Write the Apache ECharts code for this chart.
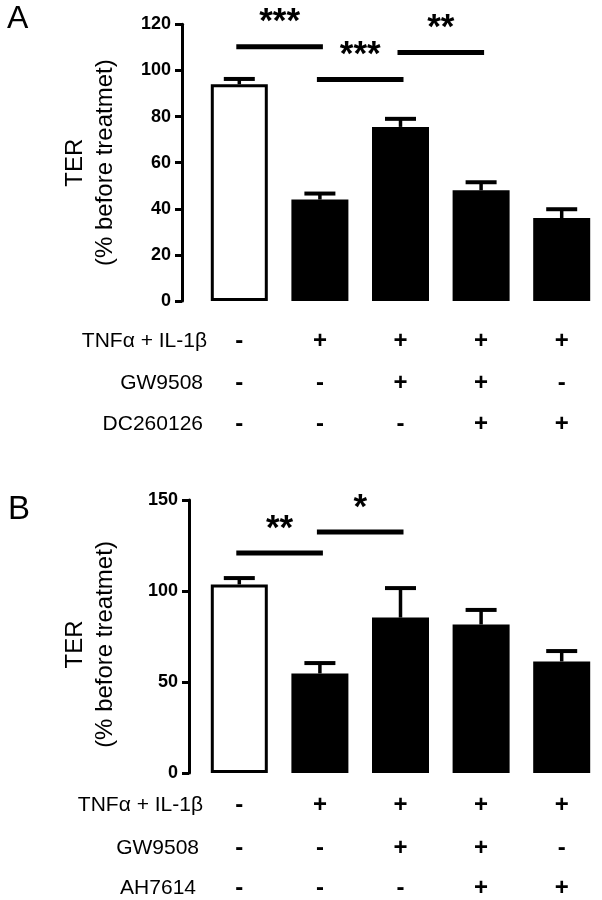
<!DOCTYPE html>
<html>
<head>
<meta charset="utf-8">
<script src="https://cdn.jsdelivr.net/npm/echarts@6/dist/echarts.min.js"></script>
<style>
html,body{margin:0;padding:0;background:#fff;}
#chart{width:602px;height:900px;}
</style>
</head>
<body>
<div id="chart"></div>
<script>
// ---- data ----
const categories = ['1', '2', '3', '4', '5'];
const terA = [94, 44, 75.5, 48, 36];
const semA = [2.3, 2.6, 3.5, 3.5, 3.8];
const terB = [103.6, 54.7, 85.4, 81.6, 61.3];
const semB = [3.5, 5.7, 16.2, 8, 5.7];
const yTicksA = [0, 20, 40, 60, 80, 100, 120];
const yTicksB = [0, 50, 100, 150];
const rowNamesA = ['TNFα + IL-1β', 'GW9508', 'DC260126'];
const rowNamesB = ['TNFα + IL-1β', 'GW9508', 'AH7614'];
const tnfA = ['-', '+', '+', '+', '+'];
const gwA  = ['-', '-', '+', '+', '-'];
const dcA  = ['-', '-', '-', '+', '+'];
const tnfB = ['-', '+', '+', '+', '+'];
const gwB  = ['-', '-', '+', '+', '-'];
const ahB  = ['-', '-', '-', '+', '+'];
// significance brackets: [fromIndex, toIndex, yValue, label]
const sigA = [[0, 1, 110.3, '***'], [1, 2, 96.1, '***'], [2, 3, 107.8, '**']];
const sigB = [[0, 1, 120.9, '**'], [1, 2, 132.4, '*']];
const yTitle = 'TER\n(% before treatmet)';

// ---- chart ----
const FONT = '"Liberation Sans", Arial, Helvetica, sans-serif';
const chart = echarts.init(document.getElementById('chart'), null, {renderer: 'canvas'});

function yAxisFor(grid, ticks, off, gap, pad) {
  return {
    type: 'value', gridIndex: grid,
    min: ticks[0], max: ticks[ticks.length - 1], interval: ticks[1] - ticks[0],
    offset: off,
    splitLine: {show: false},
    axisLine: {show: true, lineStyle: {color: '#000', width: 3}},
    axisTick: {show: true, length: 7, lineStyle: {color: '#000', width: 3}},
    axisLabel: {color: '#000', fontSize: 18, fontWeight: 'bold', fontFamily: FONT, margin: 11},
    name: yTitle, nameLocation: 'middle', nameRotate: 90, nameGap: gap,
    nameTextStyle: {color: '#000', fontSize: 24, lineHeight: 30, fontFamily: FONT, padding: pad}
  };
}

function rowAxis(grid, arr, name, off, nameGap) {
  return {
    type: 'category', gridIndex: grid, data: categories, position: 'bottom', offset: off,
    axisLine: {show: false}, axisTick: {show: false}, splitLine: {show: false},
    axisLabel: {
      show: true, interval: 0, margin: 0, verticalAlign: 'middle',
      color: '#000', fontSize: 24, fontWeight: 'bold', fontFamily: FONT,
      formatter: function (v, i) { return arr[i]; }
    },
    name: name, nameLocation: 'start', nameGap: nameGap,
    nameTextStyle: {color: '#000', fontSize: 21, fontFamily: FONT, align: 'right', verticalAlign: 'middle'}
  };
}

function barAxis(grid) {
  return {
    type: 'category', gridIndex: grid, data: categories, position: 'bottom',
    axisLine: {show: false}, axisTick: {show: false}, axisLabel: {show: false}, splitLine: {show: false}
  };
}

function barSeries(xi, yi, vals) {
  return {
    type: 'bar', xAxisIndex: xi, yAxisIndex: yi, barWidth: 57, z: 3,
    data: vals.map(function (v, i) {
      return i === 0
        ? {value: v, itemStyle: {color: '#fff', borderColor: '#000', borderWidth: 3}}
        : {value: v, itemStyle: {color: '#000', borderColor: '#000', borderWidth: 3}};
    }),
    silent: true
  };
}

function errSeries(xi, yi, vals, sems) {
  return {
    type: 'custom', xAxisIndex: xi, yAxisIndex: yi, z: 2, silent: true,
    encode: {x: 0, y: [1, 2]},
    data: vals.map(function (v, i) { return [i, v, v + sems[i]]; }),
    renderItem: function (params, api) {
      const p0 = api.coord([api.value(0), api.value(1)]);
      const p1 = api.coord([api.value(0), api.value(2)]);
      return {
        type: 'group', children: [
          {type: 'line', shape: {x1: p0[0], y1: p0[1], x2: p1[0], y2: p1[1]}, style: {stroke: '#000', lineWidth: 3.5}},
          {type: 'line', shape: {x1: p1[0] - 15.5, y1: p1[1], x2: p1[0] + 15.5, y2: p1[1]}, style: {stroke: '#000', lineWidth: 4}}
        ]
      };
    }
  };
}

function sigSeries(xi, yi, sig) {
  return {
    type: 'custom', xAxisIndex: xi, yAxisIndex: yi, z: 4, silent: true, clip: false,
    encode: {x: [0, 1], y: 2},
    data: sig.map(function (s) { return [s[0], s[1], s[2]]; }),
    renderItem: function (params, api) {
      const a = api.coord([api.value(0), api.value(2)]);
      const b = api.coord([api.value(1), api.value(2)]);
      return {
        type: 'group', children: [
          {type: 'rect', shape: {x: a[0] - 3, y: a[1] - 2.5, width: b[0] - a[0] + 6, height: 5}, style: {fill: '#000'}},
          {type: 'text', style: {
            x: (a[0] + b[0]) / 2, y: a[1] - 24, text: sig[params.dataIndex][3],
            fill: '#000', font: 'bold 35px ' + FONT, align: 'center', verticalAlign: 'middle'
          }}
        ]
      };
    }
  };
}

const option = {
  backgroundColor: '#fff',
  animation: false,
  textStyle: {fontFamily: FONT},
  grid: [
    {left: 199, top: 24.3, width: 409, height: 276.7},
    {left: 199, top: 500, width: 409, height: 273}
  ],
  xAxis: [
    barAxis(0),
    rowAxis(0, tnfA, rowNamesA[0], 40, -8),
    rowAxis(0, gwA, rowNamesA[1], 82, -4),
    rowAxis(0, dcA, rowNamesA[2], 123, -4),
    barAxis(1),
    rowAxis(1, tnfB, rowNamesB[0], 32, -4),
    rowAxis(1, gwB, rowNamesB[1], 75, 0),
    rowAxis(1, ahB, rowNamesB[2], 115, 3)
  ],
  yAxis: [
    yAxisFor(0, yTicksA, 17, 62, [0, 0, 0, 0]),
    yAxisFor(1, yTicksB, 10, 69, [0, 16, 0, 0])
  ],
  graphic: [
    {type: 'text', left: 7, top: 3, style: {text: 'A', font: '32px ' + FONT, fill: '#000'}},
    {type: 'text', left: 8, top: 493, style: {text: 'B', font: '33px ' + FONT, fill: '#000'}}
  ],
  series: [
    errSeries(0, 0, terA, semA),
    barSeries(0, 0, terA),
    sigSeries(0, 0, sigA),
    errSeries(4, 1, terB, semB),
    barSeries(4, 1, terB),
    sigSeries(4, 1, sigB)
  ]
};
chart.setOption(option);
</script>
</body>
</html>
